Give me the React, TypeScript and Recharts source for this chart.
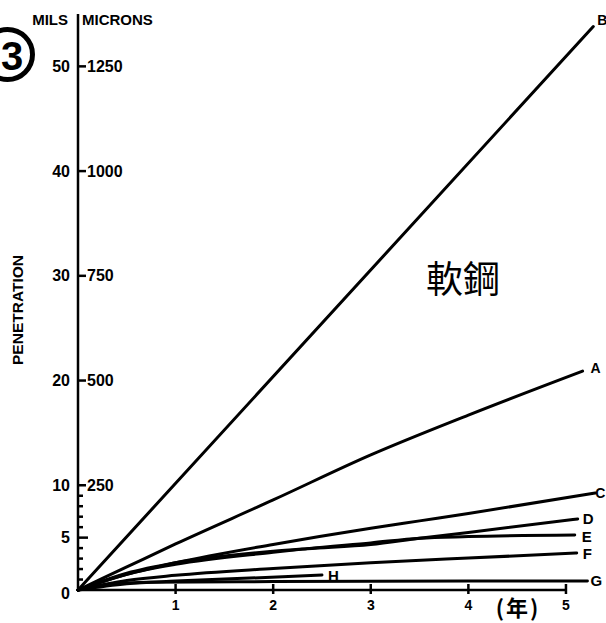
import { LineChart, Line, XAxis, YAxis, LabelList, ReferenceLine } from 'recharts';

// penetration (mils) vs exposure time (years)
const yearsB = [0, 5.28];
const milsB = [0, 53.8];
const yearsA = [0, 0.5, 1, 2, 3, 4, 5.17];
const milsA = [0, 2.2, 4.4, 8.6, 12.9, 16.7, 20.9];
const yearsC = [0, 0.5, 1, 2, 3, 3.5, 4, 5.3];
const milsC = [0, 1.5, 2.6, 4.35, 5.9, 6.6, 7.3, 9.26];
const yearsD = [0, 0.5, 1, 2, 2.35, 3, 3.5, 4, 5.12];
const milsD = [0, 1.6, 2.6, 3.7, 3.95, 4.35, 4.95, 5.5, 6.78];
const yearsE = [0, 0.5, 1, 2, 2.35, 3, 3.5, 4, 5.09];
const milsE = [0, 1.5, 2.45, 3.6, 3.95, 4.5, 4.95, 5.1, 5.25];
const yearsF = [0, 0.5, 1, 2, 3, 4, 5.11];
const milsF = [0, 0.9, 1.4, 2.05, 2.6, 3.05, 3.53];
const yearsG = [0, 0.3, 0.7, 2, 4, 5.22];
const milsG = [0, 0.5, 0.75, 0.8, 0.85, 0.86];
const yearsH = [0, 0.5, 1, 1.76, 2.5];
const milsH = [0, 0.6, 0.85, 1.14, 1.43];

const yearTicks = [1, 2, 3, 4, 5];
const milTicks = [0, 1, 2, 3, 4, 5, 6, 7, 8, 9, 10, 20, 30, 40, 50];
const MICRONS_PER_MIL = 25;

const FONT = '"Liberation Sans", Arial, sans-serif';
const CJK = '"Noto Sans CJK TC", "Noto Sans CJK SC", sans-serif';

const toPoints = (years: number[], mils: number[]) => years.map((t, i) => ({ t, v: mils[i] }));

const series = [
  { name: 'B', data: toPoints(yearsB, milsB), dx: 4, dy: -7, size: 14 },
  { name: 'A', data: toPoints(yearsA, milsA), dx: 8, dy: -3, size: 14 },
  { name: 'C', data: toPoints(yearsC, milsC), dx: 0, dy: 0, size: 14 },
  { name: 'D', data: toPoints(yearsD, milsD), dx: 5, dy: 0, size: 15 },
  { name: 'E', data: toPoints(yearsE, milsE), dx: 7, dy: 1, size: 15 },
  { name: 'F', data: toPoints(yearsF, milsF), dx: 6, dy: 0, size: 15 },
  { name: 'G', data: toPoints(yearsG, milsG), dx: 3, dy: 0, size: 15 },
  { name: 'H', data: toPoints(yearsH, milsH), dx: 6, dy: 0, size: 15 },
];

function MilsTick({ x, y, payload }: any) {
  const v = payload.value;
  const major = v === 0 || v === 5 || v >= 10;
  const len = v === 0 ? 0 : v === 5 ? 10 : v >= 10 ? 8 : 5;
  return (
    <g>
      {len > 0 && <line x1={x} x2={x + len} y1={y} y2={y} stroke="#000" strokeWidth={2.5} />}
      {major && (
        <text x={x - 8} y={v === 0 ? y + 3 : y} textAnchor="end" dominantBaseline="central"
          fontFamily={FONT} fontWeight={700} fontSize={16} fill="#000">{v}</text>
      )}
      {v >= 10 && (
        <text x={x + 9} y={y} textAnchor="start" dominantBaseline="central"
          fontFamily={FONT} fontWeight={700} fontSize={16} fill="#000">{v * MICRONS_PER_MIL}</text>
      )}
    </g>
  );
}

function YearTick({ x, y, payload }: any) {
  return (
    <g>
      <line x1={x} x2={x} y1={y - 6} y2={y + 4} stroke="#000" strokeWidth={2.5} />
      <text x={x} y={y + 15} textAnchor="middle" dominantBaseline="central"
        fontFamily={FONT} fontWeight={700} fontSize={14} fill="#000">{payload.value}</text>
    </g>
  );
}

const endLabel = (name: string, last: number, dx: number, dy: number, size: number) => (p: any) =>
  p.index === last ? (
    <text x={p.x + dx} y={p.y + dy} textAnchor="start" dominantBaseline="central"
      fontFamily={FONT} fontWeight={700} fontSize={size} fill="#000">{name}</text>
  ) : null;

export default function App() {
  return (
    <div style={{ position: 'absolute', left: 0, top: 0, width: 606, height: 623, background: '#fff' }}>
      <LineChart width={606} height={623} margin={{ top: 14, right: 1, bottom: 0, left: 0 }}>
        <XAxis dataKey="t" type="number" domain={[0, 5.4]} ticks={yearTicks} height={33}
          axisLine={false} tickLine={false} tickSize={0} tickMargin={0} tick={<YearTick />} />
        <YAxis type="number" domain={[0, 55]} ticks={milTicks} width={78} interval={0}
          axisLine={{ stroke: '#000', strokeWidth: 2.5 }} tickLine={false} tickSize={0} tickMargin={0}
          tick={<MilsTick />} />
        <ReferenceLine segment={[{ x: 0, y: 0 }, { x: 5, y: 0 }]} stroke="#000" strokeWidth={2.5} />
        {series.map((s) => (
          <Line key={s.name} data={s.data} dataKey="v" type="monotone" stroke="#000" strokeWidth={3}
            strokeLinecap="round" dot={false} activeDot={false} isAnimationActive={false}>
            <LabelList dataKey="v" content={endLabel(s.name, s.data.length - 1, s.dx, s.dy, s.size)} />
          </Line>
        ))}
      </LineChart>
      <svg width={606} height={623} style={{ position: 'absolute', left: 0, top: 0, pointerEvents: 'none' }}>
        <text x={68} y={19} textAnchor="end" dominantBaseline="central" fontFamily={FONT} fontWeight={700} fontSize={15}>MILS</text>
        <text x={82} y={19} textAnchor="start" dominantBaseline="central" fontFamily={FONT} fontWeight={700} fontSize={15}>MICRONS</text>
        <text x={17} y={310} transform="rotate(-90, 17, 310)" textAnchor="middle" dominantBaseline="central"
          fontFamily={FONT} fontWeight={700} fontSize={15.5}>PENETRATION</text>
        <circle cx={7.5} cy={54.5} r={25} fill="none" stroke="#000" strokeWidth={5} />
        <text x={12} y={56} textAnchor="middle" dominantBaseline="central" fontFamily={FONT} fontWeight={700} fontSize={40}>3</text>
        <text x={463} y={277} textAnchor="middle" dominantBaseline="central" fontFamily={CJK} fontSize={37}>軟鋼</text>
        <text x={518} y={606} textAnchor="middle" dominantBaseline="central" fontFamily={CJK} fontWeight={700}
          fontSize={22} letterSpacing={2}>(年)</text>
      </svg>
    </div>
  );
}
